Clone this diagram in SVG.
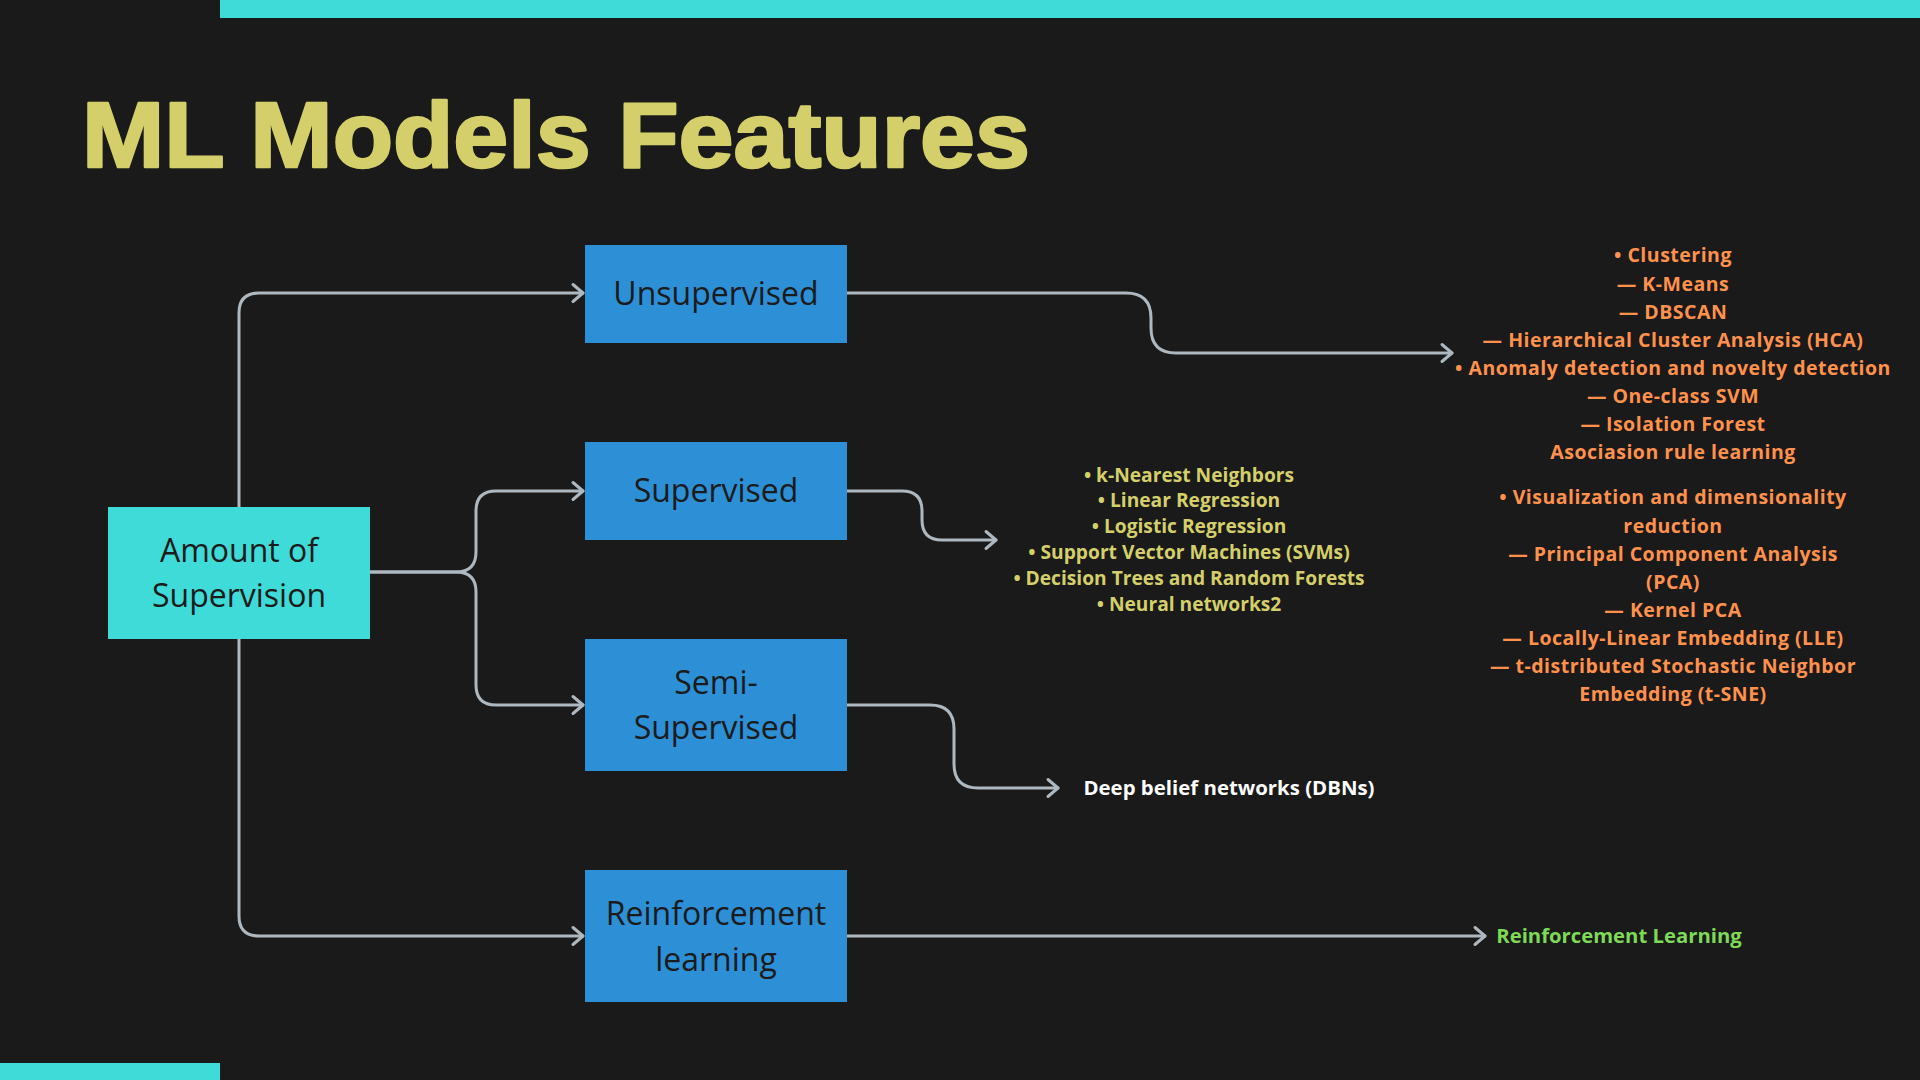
<svg xmlns="http://www.w3.org/2000/svg" width="1920" height="1080" viewBox="0 0 1920 1080">
  <style>
    .title { font-family: "Liberation Sans", Arial, sans-serif; font-weight: 700; font-size: 92px; fill: #D4CF6A; stroke: #D4CF6A; stroke-width: 2.5; stroke-linejoin: round; }
    .node-text { font-family: "Open Sans", "Noto Sans", sans-serif; font-size: 32px; fill: #1B1B1B; text-anchor: middle; }
    .conn { fill: none; stroke: #AEB8C0; stroke-width: 3; stroke-linecap: round; stroke-linejoin: round; }
    .list { font-family: "Open Sans", "Noto Sans", sans-serif; font-weight: 700; text-anchor: middle; }
    .yellow { fill: #D4CF6A; font-size: 19.2px; }
    .orange { fill: #FF914D; font-size: 19.5px; letter-spacing: 0.5px; }
    .white { fill: #FFFFFF; font-size: 20.4px; }
    .green { fill: #7ED957; font-size: 20.3px; }
  </style>
  <defs>
    <marker id="arrow" markerUnits="userSpaceOnUse" markerWidth="18" markerHeight="24" viewBox="-14 -12 18 24" refX="0" refY="0" orient="auto">
      <path d="M-10,-8.5 L0,0 L-10,8.5" fill="none" stroke="#AEB8C0" stroke-width="3" stroke-linecap="round" stroke-linejoin="round"/>
    </marker>
  </defs>
  <rect x="0" y="0" width="1920" height="1080" fill="#1A1A1A"/>
  <rect x="220" y="0" width="1700" height="18" fill="#3EDBD8"/>
  <rect x="0" y="1063" width="220" height="17" fill="#3EDBD8"/>
  <text class="title" x="82" y="167" textLength="948" lengthAdjust="spacingAndGlyphs">ML Models Features</text>

  <g id="connectors">
    <path class="conn" d="M239,507 V313 Q239,293 259,293 H583" marker-end="url(#arrow)"/>
    <path class="conn" d="M239,639 V916 Q239,936 259,936 H583" marker-end="url(#arrow)"/>
    <path class="conn" d="M370,572 H456 Q476,572 476,552 V511 Q476,491 496,491 H583" marker-end="url(#arrow)"/>
    <path class="conn" d="M370,572 H456 Q476,572 476,592 V685 Q476,705 496,705 H583" marker-end="url(#arrow)"/>
    <path class="conn" d="M847,293 H1126 Q1151,293 1151,318 V328 Q1151,353 1176,353 H1452" marker-end="url(#arrow)"/>
    <path class="conn" d="M847,491 H902 Q922,491 922,511 V520 Q922,540 942,540 H996" marker-end="url(#arrow)"/>
    <path class="conn" d="M847,705 H930 Q954,705 954,729 V764 Q954,788 978,788 H1058" marker-end="url(#arrow)"/>
    <path class="conn" d="M847,936 H1485" marker-end="url(#arrow)"/>
  </g>

  <g id="node-amount">
    <rect x="108" y="507" width="262" height="132" fill="#3EDBD8"/>
    <text class="node-text" x="239" y="562">Amount of</text>
    <text class="node-text" x="239" y="607">Supervision</text>
  </g>
  <g id="node-unsupervised">
    <rect x="585" y="245" width="262" height="98" fill="#2D8FD5"/>
    <text class="node-text" x="716" y="305">Unsupervised</text>
  </g>
  <g id="node-supervised">
    <rect x="585" y="442" width="262" height="98" fill="#2D8FD5"/>
    <text class="node-text" x="716" y="502">Supervised</text>
  </g>
  <g id="node-semi">
    <rect x="585" y="639" width="262" height="132" fill="#2D8FD5"/>
    <text class="node-text" x="716" y="694">Semi-</text>
    <text class="node-text" x="716" y="739">Supervised</text>
  </g>
  <g id="node-reinforcement">
    <rect x="585" y="870" width="262" height="132" fill="#2D8FD5"/>
    <text class="node-text" x="716" y="925">Reinforcement</text>
    <text class="node-text" x="716" y="971">learning</text>
  </g>

  <g id="list-unsupervised" class="list orange">
    <text x="1673" y="262">• Clustering</text>
    <text x="1673" y="291">— K-Means</text>
    <text x="1673" y="319">— DBSCAN</text>
    <text x="1673" y="347">— Hierarchical Cluster Analysis (HCA)</text>
    <text x="1673" y="375">• Anomaly detection and novelty detection</text>
    <text x="1673" y="403">— One-class SVM</text>
    <text x="1673" y="431">— Isolation Forest</text>
    <text x="1673" y="459">Asociasion rule learning</text>
    <text x="1673" y="504">• Visualization and dimensionality</text>
    <text x="1673" y="533">reduction</text>
    <text x="1673" y="561">— Principal Component Analysis</text>
    <text x="1673" y="589">(PCA)</text>
    <text x="1673" y="617">— Kernel PCA</text>
    <text x="1673" y="645">— Locally-Linear Embedding (LLE)</text>
    <text x="1673" y="673">— t-distributed Stochastic Neighbor</text>
    <text x="1673" y="701">Embedding (t-SNE)</text>
  </g>
  <g id="list-supervised" class="list yellow">
    <text x="1189" y="482">• k-Nearest Neighbors</text>
    <text x="1189" y="507">• Linear Regression</text>
    <text x="1189" y="533">• Logistic Regression</text>
    <text x="1189" y="559">• Support Vector Machines (SVMs)</text>
    <text x="1189" y="585">• Decision Trees and Random Forests</text>
    <text x="1189" y="611">• Neural networks2</text>
  </g>
  <g id="label-semi" class="list white">
    <text x="1229" y="795">Deep belief networks (DBNs)</text>
  </g>
  <g id="label-reinforcement" class="list green">
    <text x="1619" y="943">Reinforcement Learning</text>
  </g>
</svg>
